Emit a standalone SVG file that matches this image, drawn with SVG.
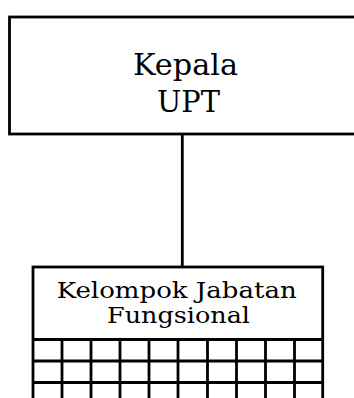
<svg xmlns="http://www.w3.org/2000/svg" width="354" height="398" viewBox="0 0 354 398">
<style>
.box{fill:#fff;stroke:#000;stroke-width:2.8}
.ln{stroke:#000;stroke-width:2.8;fill:none}
.t{font-family:"DejaVu Serif",serif;fill:#000;text-anchor:middle}
</style>
<rect width="354" height="398" fill="#fff"/>
<g id="connectors">
<line class="ln" x1="182.3" y1="134" x2="182.3" y2="267"/>
</g>
<g id="kepala">
<rect class="box" x="9.5" y="17" width="360" height="117"/>
<text class="t" x="185.5" y="75" font-size="30" textLength="105" lengthAdjust="spacingAndGlyphs">Kepala</text>
<text class="t" x="188.5" y="112" font-size="30" textLength="63" lengthAdjust="spacingAndGlyphs">UPT</text>
</g>
<g id="kelompok">
<rect class="box" x="33" y="267" width="289.7" height="140"/>
<text class="t" x="176.7" y="298.3" font-size="23" textLength="240" lengthAdjust="spacingAndGlyphs">Kelompok Jabatan</text>
<text class="t" x="178.5" y="323.3" font-size="23" textLength="143" lengthAdjust="spacingAndGlyphs">Fungsional</text>
<g class="ln">
<line x1="33" y1="339.5" x2="322.7" y2="339.5"/>
<line x1="33" y1="361" x2="322.7" y2="361"/>
<line x1="33" y1="382.5" x2="322.7" y2="382.5"/>
<line x1="62" y1="339.5" x2="62" y2="398"/>
<line x1="91" y1="339.5" x2="91" y2="398"/>
<line x1="120" y1="339.5" x2="120" y2="398"/>
<line x1="149" y1="339.5" x2="149" y2="398"/>
<line x1="178" y1="339.5" x2="178" y2="398"/>
<line x1="207.5" y1="339.5" x2="207.5" y2="398"/>
<line x1="236.5" y1="339.5" x2="236.5" y2="398"/>
<line x1="265.5" y1="339.5" x2="265.5" y2="398"/>
<line x1="294.5" y1="339.5" x2="294.5" y2="398"/>
</g>
</g>
</svg>
